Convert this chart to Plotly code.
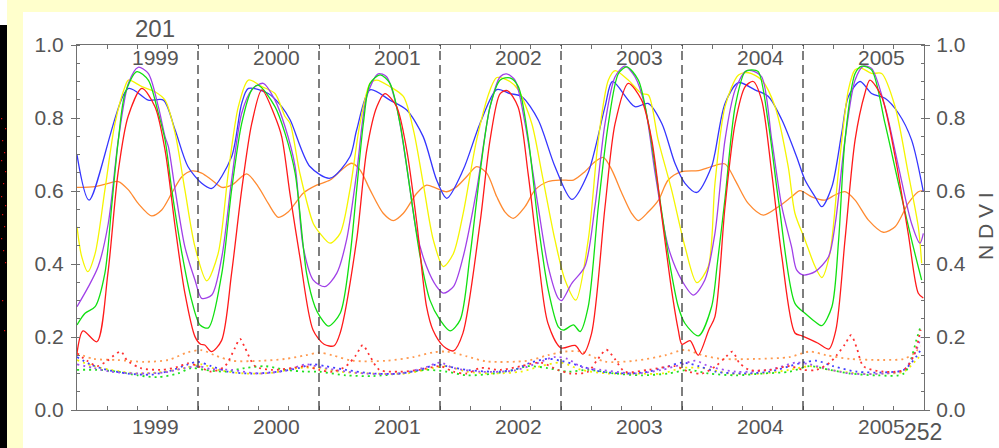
import plotly.graph_objects as go

# ---------------- data (x in dekads, 36 per year, 252 total) ----------------
red_x = [0, 1.8, 5.9, 9.2, 12.2, 15.2, 19.3, 23.2, 26.2, 29.2, 32.1, 35.1, 36.8, 38, 40, 43, 46, 49, 52, 55,
         58.9, 60.9, 63.4, 66.3, 70.2, 73.5, 76.5, 78.3, 83.2, 86.2, 89.2, 91.6, 95.1, 98.1, 101.1, 104, 105.9,
         109, 112, 114.8, 119.9, 122.9, 125.9, 128, 131.2, 134.2, 137.2, 140.1, 144, 148.2, 150.5, 153.1,
         157.1, 160.1, 164, 168, 171, 174, 176.9, 178.9, 180, 182.4, 184.8, 188, 189.8, 192.8, 195.8, 198.8,
         201.2, 203.7, 206.7, 209.7, 213.6, 215.7, 220.5, 223.7, 225.8, 228.5, 231.5, 234.4, 235.9, 239.4,
         243.4, 247.3, 250.3, 251.8]
red_y = [0.156, 0.217, 0.187, 0.375, 0.649, 0.804, 0.881, 0.831, 0.712, 0.502, 0.320, 0.201, 0.18, 0.178, 0.16,
         0.19, 0.375, 0.603, 0.785, 0.877, 0.804, 0.749, 0.59, 0.42, 0.22, 0.18, 0.176, 0.211, 0.466, 0.712,
         0.831, 0.867, 0.831, 0.712, 0.512, 0.283, 0.219, 0.175, 0.162, 0.21, 0.512, 0.740, 0.867, 0.875,
         0.831, 0.649, 0.42, 0.238, 0.17, 0.177, 0.153, 0.21, 0.557, 0.785, 0.895, 0.849, 0.740, 0.530,
         0.329, 0.219, 0.18, 0.19, 0.15, 0.22, 0.256, 0.557, 0.785, 0.886, 0.900, 0.849, 0.649, 0.420,
         0.211, 0.203, 0.183, 0.167, 0.22, 0.466, 0.740, 0.867, 0.904, 0.859, 0.694, 0.484, 0.320, 0.307]

green_x = [0, 2.4, 5.4, 8.3, 10.3, 12.3, 14.3, 17.8, 21.2, 24.2, 26.2, 28.2, 31.2, 34.1, 36.6, 39.1, 43.1, 46,
           49, 52, 53.9, 58.9, 61.9, 64.9, 68.3, 70.8, 72.3, 74.8, 78.3, 81.2, 83.2, 85.2, 87.2, 90.2, 93.1,
           96.1, 99.1, 102.1, 105, 108, 111, 114, 116.9, 119.9, 122.9, 125.9, 128.8, 131.3, 134.3, 137.2,
           140.2, 143.2, 144.7, 147.7, 149.7, 152.1, 155.1, 158.1, 161.1, 163.6, 167, 170, 173, 176, 178.9,
           180.9, 184.9, 188.8, 190.5, 192.8, 195.8, 198.8, 200.7, 202.7, 205.7, 208.7, 213.6, 216.6, 219.6,
           221.6, 224.6, 226.6, 228.5, 231.5, 233.5, 236.4, 240.4, 244.4, 248.3, 251.3]
green_y = [0.233, 0.265, 0.283, 0.375, 0.557, 0.740, 0.867, 0.927, 0.904, 0.813, 0.740, 0.603, 0.430, 0.301,
           0.233, 0.225, 0.375, 0.603, 0.785, 0.877, 0.890, 0.831, 0.758, 0.649, 0.375, 0.283, 0.256, 0.230,
           0.265, 0.420, 0.603, 0.785, 0.895, 0.918, 0.895, 0.785, 0.603, 0.420, 0.301, 0.247, 0.217, 0.247,
           0.420, 0.649, 0.831, 0.904, 0.910, 0.886, 0.740, 0.511, 0.329, 0.228, 0.219, 0.233, 0.215, 0.283,
           0.557, 0.785, 0.922, 0.940, 0.904, 0.785, 0.603, 0.420, 0.283, 0.237, 0.203, 0.283, 0.40, 0.58,
           0.831, 0.927, 0.932, 0.927, 0.785, 0.575, 0.292, 0.265, 0.242, 0.231, 0.283, 0.466, 0.740, 0.922,
           0.942, 0.932, 0.785, 0.621, 0.466, 0.356]

purple_x = [0, 3.4, 6.3, 9.3, 12.3, 15.3, 18.2, 21.2, 24.2, 26.2, 27.2, 29.2, 32.1, 35.1, 37.1, 40.1, 43.1,
            46, 49, 52, 55.4, 58.9, 61.9, 64.9, 67.3, 70.3, 73.8, 77.3, 80.2, 83.2, 86.2, 89.6, 92.1, 95.1,
            98.1, 101.1, 104, 107, 109, 112, 114.9, 118.9, 122.9, 125.9, 127.8, 130.3, 133.3, 137.2, 140.2,
            143.2, 144.2, 147.2, 151.1, 154.1, 157.1, 160.1, 163, 166, 169, 172, 175.9, 179.9, 183.4, 186.8,
            189.8, 192.8, 195.8, 198.8, 200.7, 203.7, 206.7, 209.7, 212.6, 214.1, 216.1, 219.6, 223.6, 225.6,
            228.5, 231.5, 234, 236.4, 240.4, 244.4, 248.3, 250.8, 251.8]
purple_y = [0.283, 0.338, 0.393, 0.511, 0.740, 0.895, 0.939, 0.922, 0.831, 0.749, 0.721, 0.603, 0.447, 0.356,
            0.306, 0.315, 0.420, 0.630, 0.813, 0.877, 0.895, 0.849, 0.776, 0.667, 0.447, 0.356, 0.338, 0.375,
            0.466, 0.649, 0.859, 0.921, 0.913, 0.831, 0.667, 0.484, 0.393, 0.338, 0.320, 0.338, 0.420, 0.603,
            0.831, 0.913, 0.921, 0.904, 0.785, 0.557, 0.393, 0.306, 0.300, 0.347, 0.393, 0.557, 0.785, 0.913,
            0.942, 0.913, 0.831, 0.649, 0.447, 0.356, 0.315, 0.356, 0.484, 0.740, 0.877, 0.927, 0.930, 0.913,
            0.740, 0.557, 0.447, 0.384, 0.370, 0.379, 0.420, 0.511, 0.740, 0.904, 0.942, 0.936, 0.831, 0.667,
            0.511, 0.457, 0.484]

yellow_x = [0, 1.4, 3.2, 5.4, 8.3, 11.3, 14.3, 15.3, 19.3, 23.2, 26.2, 29.2, 32.1, 35.1, 38.6, 42, 45, 48, 51,
            55, 58.9, 61.9, 63.4, 66.3, 70.3, 72.3, 75.3, 78.3, 81.2, 84.2, 87.2, 89.2, 93.1, 97.1, 100.1, 103,
            106, 109, 112, 114.9, 118.9, 122.9, 124.9, 128.8, 131.3, 135.3, 138.3, 142.2, 145.2, 148.4, 152.1,
            155.1, 158.1, 160.1, 164, 168, 170, 172.9, 176.9, 180.9, 184.4, 187.8, 189.8, 192.8, 196.8, 199.8,
            203.7, 207.7, 211.6, 213.6, 216.6, 219.6, 221.6, 224, 226.5, 229.5, 231.5, 233.5, 236.4, 239.4,
            243.4, 247.3, 250.3, 251.3]
yellow_y = [0.502, 0.42, 0.379, 0.429, 0.603, 0.785, 0.886, 0.904, 0.886, 0.872, 0.849, 0.758, 0.603, 0.447,
            0.354, 0.429, 0.649, 0.831, 0.904, 0.886, 0.867, 0.804, 0.785, 0.649, 0.511, 0.484, 0.457, 0.484,
            0.603, 0.785, 0.895, 0.904, 0.886, 0.859, 0.767, 0.621, 0.466, 0.393, 0.429, 0.539, 0.740, 0.877,
            0.911, 0.900, 0.877, 0.785, 0.649, 0.466, 0.356, 0.301, 0.466, 0.740, 0.904, 0.930, 0.904, 0.867,
            0.863, 0.740, 0.603, 0.447, 0.349, 0.393, 0.62, 0.831, 0.918, 0.924, 0.904, 0.831, 0.667, 0.539,
            0.466, 0.393, 0.363, 0.429, 0.649, 0.877, 0.932, 0.936, 0.922, 0.922, 0.831, 0.649, 0.502, 0.402]

blue_x = [0, 3.6, 15.3, 21.2, 25.7, 29.2, 33, 37.1, 40.1, 46, 49, 51, 56.9, 60.9, 63.4, 69.3, 75.3, 81.2, 83.2,
          87.2, 93.1, 98.1, 103, 107, 110, 114.9, 119.9, 124.9, 128.8, 132.3, 137.2, 142.2, 147.2, 152, 157.1,
          159.3, 166, 169.9, 174, 177.9, 180.9, 184.4, 188.8, 189.8, 192.8, 196.8, 201.7, 205.7, 209.7, 214.1,
          216.6, 219.6, 221.6, 224.6, 227.5, 229.5, 233, 236.4, 240.4, 244.4, 248.3, 251.8]
blue_y = [0.699, 0.575, 0.881, 0.849, 0.849, 0.767, 0.667, 0.621, 0.607, 0.694, 0.840, 0.881, 0.867, 0.831,
          0.795, 0.667, 0.635, 0.694, 0.767, 0.877, 0.849, 0.822, 0.749, 0.630, 0.580, 0.658, 0.785, 0.878,
          0.867, 0.859, 0.795, 0.667, 0.577, 0.648, 0.831, 0.900, 0.831, 0.840, 0.785, 0.676, 0.621, 0.596,
          0.667, 0.704, 0.840, 0.897, 0.877, 0.859, 0.795, 0.694, 0.630, 0.584, 0.557, 0.612, 0.758, 0.859,
          0.900, 0.867, 0.854, 0.813, 0.740, 0.598]

orange_x = [0, 5.4, 9.3, 12.3, 15.3, 18.2, 22.2, 25.2, 28.2, 31.2, 34.1, 37.1, 40.1, 43.1, 46, 50.5, 53.9,
            56.9, 59.9, 62.9, 64.9, 67.3, 71.3, 75.3, 79.2, 81.7, 84.2, 87.2, 91.1, 94.1, 97.1, 101.1, 104, 107,
            110, 113, 115.9, 118.9, 121.9, 124.9, 127.3, 129.8, 133.3, 136.3, 140.2, 144.2, 147.7, 151.1, 154.1,
            156.6, 159.1, 162.1, 165, 167, 170, 173, 175.9, 179.9, 184.9, 188.8, 192.8, 195.8, 199.7, 204.2,
            208.7, 212.6, 215.1, 218.6, 222.5, 225.5, 228.5, 231.5, 235.4, 239.9, 243.4, 247.3, 250.3, 251.8]
orange_y = [0.610, 0.612, 0.621, 0.626, 0.603, 0.566, 0.532, 0.548, 0.594, 0.639, 0.655, 0.649, 0.630, 0.610,
            0.616, 0.647, 0.612, 0.566, 0.528, 0.543, 0.566, 0.594, 0.616, 0.630, 0.662, 0.676, 0.658, 0.603,
            0.539, 0.519, 0.539, 0.594, 0.616, 0.607, 0.598, 0.612, 0.639, 0.667, 0.649, 0.584, 0.543, 0.525,
            0.557, 0.603, 0.626, 0.630, 0.630, 0.653, 0.680, 0.692, 0.658, 0.594, 0.539, 0.519, 0.543, 0.575,
            0.630, 0.653, 0.656, 0.667, 0.674, 0.630, 0.566, 0.534, 0.557, 0.584, 0.601, 0.584, 0.575, 0.589,
            0.598, 0.575, 0.521, 0.487, 0.502, 0.566, 0.598, 0.601]

# dotted (standard-deviation-like) series
sd_red_x = [0, 3, 6, 9, 13, 15, 19, 25, 30, 33, 36, 40, 44, 47, 48.5, 50, 53, 58, 64, 68, 72, 76, 80, 83, 85,
            87, 90, 96, 102, 108, 112, 116, 120, 126, 132, 138, 143, 147, 152, 155, 157.5, 160, 163, 170, 178,
            182, 186, 190, 193, 195, 197, 200, 206, 212, 216, 220, 224, 226, 228.5, 230.3, 232, 234, 240, 246,
            249, 251]
sd_red_y = [0.155, 0.135, 0.12, 0.135, 0.16, 0.135, 0.115, 0.11, 0.118, 0.128, 0.12, 0.105, 0.12, 0.17, 0.195,
            0.17, 0.12, 0.11, 0.115, 0.12, 0.11, 0.105, 0.12, 0.15, 0.178, 0.15, 0.11, 0.105, 0.11, 0.12, 0.105,
            0.1, 0.115, 0.11, 0.12, 0.13, 0.11, 0.1, 0.105, 0.14, 0.165, 0.14, 0.105, 0.11, 0.12, 0.105, 0.1,
            0.12, 0.145, 0.16, 0.13, 0.11, 0.11, 0.12, 0.11, 0.11, 0.13, 0.15, 0.18, 0.205, 0.17, 0.12, 0.105,
            0.11, 0.15, 0.22]

sd_orange_x = [0, 5, 12, 20, 27, 33, 37, 41, 46, 55, 62, 68, 72, 76, 82, 92, 100, 106, 110, 116, 122, 134,
               140, 145, 150, 157, 166, 175, 181, 186, 192, 202, 212, 218, 223, 230, 240, 246, 249, 251]
sd_orange_y = [0.155, 0.14, 0.137, 0.132, 0.137, 0.158, 0.164, 0.15, 0.135, 0.135, 0.14, 0.15, 0.157, 0.15,
               0.135, 0.135, 0.145, 0.158, 0.16, 0.147, 0.133, 0.135, 0.15, 0.16, 0.16, 0.133, 0.135, 0.15,
               0.165, 0.15, 0.14, 0.14, 0.145, 0.16, 0.15, 0.14, 0.137, 0.14, 0.155, 0.175]

sd_blue_x = [0, 4, 8, 15, 22, 28, 33, 36, 40, 45, 52, 60, 66, 70, 74, 80, 88, 96, 102, 107, 110, 116, 124,
             130, 135, 140, 144, 150, 156, 164, 170, 176, 180, 185, 190, 198, 206, 212, 216, 220, 225, 232, 240,
             246, 250, 251]
sd_blue_y = [0.145, 0.125, 0.112, 0.1, 0.097, 0.108, 0.125, 0.132, 0.12, 0.105, 0.1, 0.105, 0.115, 0.125,
             0.12, 0.11, 0.1, 0.1, 0.11, 0.125, 0.12, 0.11, 0.105, 0.11, 0.13, 0.14, 0.135, 0.12, 0.105, 0.1,
             0.105, 0.12, 0.13, 0.12, 0.105, 0.1, 0.105, 0.12, 0.13, 0.135, 0.12, 0.105, 0.103, 0.11, 0.15, 0.165]

sd_purple_x = [0, 5, 10, 18, 26, 32, 36, 40, 46, 54, 62, 68, 72, 78, 86, 96, 104, 108, 112, 120, 130, 136,
               142, 146, 150, 156, 166, 174, 180, 184, 188, 196, 206, 214, 218, 222, 230, 240, 246, 250, 251]
sd_purple_y = [0.125, 0.115, 0.105, 0.1, 0.103, 0.115, 0.12, 0.112, 0.11, 0.1, 0.108, 0.125, 0.118, 0.108,
               0.1, 0.1, 0.118, 0.13, 0.115, 0.105, 0.108, 0.125, 0.145, 0.14, 0.118, 0.11, 0.1, 0.11, 0.125,
               0.135, 0.12, 0.105, 0.11, 0.13, 0.125, 0.115, 0.1, 0.1, 0.11, 0.17, 0.2]

sd_green_x = [0, 6, 12, 18, 24, 30, 34, 38, 44, 50, 56, 62, 68, 72, 80, 88, 96, 104, 110, 116, 124, 130, 134,
              140, 146, 152, 160, 168, 176, 182, 188, 196, 204, 212, 218, 224, 230, 238, 246, 250, 251]
sd_green_y = [0.11, 0.11, 0.105, 0.095, 0.09, 0.1, 0.115, 0.11, 0.105, 0.115, 0.12, 0.11, 0.105, 0.105, 0.095,
              0.093, 0.1, 0.11, 0.105, 0.095, 0.1, 0.11, 0.12, 0.115, 0.105, 0.11, 0.1, 0.095, 0.1, 0.11, 0.1,
              0.095, 0.1, 0.105, 0.12, 0.11, 0.1, 0.095, 0.1, 0.2, 0.23]

sd_yellow_x = [0, 5, 10, 18, 26, 32, 37, 42, 50, 58, 66, 72, 78, 88, 98, 106, 110, 116, 124, 132, 138, 144,
               150, 158, 166, 174, 180, 186, 194, 204, 212, 218, 224, 232, 240, 246, 250, 251]
sd_yellow_y = [0.137, 0.12, 0.11, 0.1, 0.105, 0.115, 0.125, 0.11, 0.1, 0.102, 0.115, 0.115, 0.105, 0.1, 0.1,
               0.115, 0.12, 0.105, 0.1, 0.105, 0.12, 0.13, 0.11, 0.1, 0.1, 0.1, 0.115, 0.115, 0.1, 0.1, 0.11,
               0.12, 0.11, 0.1, 0.1, 0.105, 0.14, 0.15]

year_labels = ["1999", "2000", "2001", "2002", "2003", "2004", "2005"]
year_label_pos = [23.5, 59.5, 95.5, 131.5, 167.5, 203.5, 239.5]
year_bounds = [36, 72, 108, 144, 180, 216]
x_ticks = list(range(0, 253, 9))
y_ticks = [0.0, 0.2, 0.4, 0.6, 0.8, 1.0]
y_tick_text = ["0.0", "0.2", "0.4", "0.6", "0.8", "1.0"]

# ---------------- figure ----------------
W, H = 999, 448
L, R, T, B = 77, 75, 45, 38
PW, PH = W - L - R, H - T - B


def px2paper_x(px):
    return (px - L) / PW


def py2paper_y(py):
    return (H - B - py) / PH


FONT = "Liberation Sans, Arial, sans-serif"
TXT = "#555555"
AX = "#707070"

fig = go.Figure()

solid = [
    (orange_x, orange_y, "#FF8A30"),
    (blue_x, blue_y, "#3535FF"),
    (yellow_x, yellow_y, "#F5F500"),
    (purple_x, purple_y, "#A040E8"),
    (green_x, green_y, "#10E010"),
    (red_x, red_y, "#FF1A1A"),
]
dotted = [
    (sd_orange_x, sd_orange_y, "#FF9A50"),
    (sd_yellow_x, sd_yellow_y, "#F0F000"),
    (sd_green_x, sd_green_y, "#20E020"),
    (sd_blue_x, sd_blue_y, "#4040FF"),
    (sd_purple_x, sd_purple_y, "#A050F0"),
    (sd_red_x, sd_red_y, "#FF3030"),
]

for xs, ys, c in dotted:
    fig.add_trace(go.Scatter(x=xs, y=ys, mode="lines",
                             line=dict(color=c, width=1.8, dash="2px,4px", shape="spline", smoothing=0.8),
                             hoverinfo="skip", showlegend=False))
for xs, ys, c in solid:
    fig.add_trace(go.Scatter(x=xs, y=ys, mode="lines",
                             line=dict(color=c, width=1.3, shape="spline", smoothing=0.8),
                             hoverinfo="skip", showlegend=False))

# invisible trace to activate right axis
fig.add_trace(go.Scatter(x=[0], y=[0], yaxis="y2", mode="markers", marker=dict(opacity=0),
                         hoverinfo="skip", showlegend=False))

shapes = []
# dashed year boundaries
for xb in year_bounds:
    shapes.append(dict(type="line", xref="x", yref="paper", x0=xb, x1=xb, y0=0, y1=1,
                       line=dict(color="#3a3a3a", width=1.3, dash="9px,5px"), layer="above"))
# background decoration: yellow frame and black strip
shapes.append(dict(type="rect", xref="paper", yref="paper", layer="below",
                   x0=px2paper_x(7), x1=px2paper_x(999), y0=py2paper_y(12), y1=py2paper_y(0),
                   fillcolor="#FFFFCC", line=dict(width=0)))
shapes.append(dict(type="rect", xref="paper", yref="paper", layer="below",
                   x0=px2paper_x(7), x1=px2paper_x(23), y0=py2paper_y(448), y1=py2paper_y(0),
                   fillcolor="#FFFFCC", line=dict(width=0)))
shapes.append(dict(type="rect", xref="paper", yref="paper", layer="below",
                   x0=px2paper_x(0), x1=px2paper_x(7), y0=py2paper_y(448), y1=py2paper_y(25),
                   fillcolor="#000000", line=dict(width=0)))
speck_px = [(2, 140), (4, 152), (1, 160), (5, 171), (3, 183), (1, 196), (5, 205), (2, 214), (4, 226),
            (1, 238), (3, 250), (5, 262), (2, 300), (4, 330), (1, 118), (5, 128)]
for sx, sy in speck_px:
    shapes.append(dict(type="rect", xref="paper", yref="paper", layer="below",
                       x0=px2paper_x(sx), x1=px2paper_x(sx + 1.2), y0=py2paper_y(sy + 1.2), y1=py2paper_y(sy),
                       fillcolor="#E01010", line=dict(width=0)))

annotations = []
for lab, xp in zip(year_labels, year_label_pos):
    annotations.append(dict(x=xp, xref="x", y=py2paper_y(426), yref="paper", text=lab, showarrow=False,
                            font=dict(family=FONT, size=21, color=TXT), xanchor="center", yanchor="middle"))
    annotations.append(dict(x=xp, xref="x", y=py2paper_y(58), yref="paper", text=lab, showarrow=False,
                            font=dict(family=FONT, size=21, color=TXT), xanchor="center", yanchor="middle"))
annotations.append(dict(x=px2paper_x(155), y=py2paper_y(28), xref="paper", yref="paper", text="201",
                        showarrow=False, font=dict(family=FONT, size=24, color=TXT),
                        xanchor="center", yanchor="middle"))
annotations.append(dict(x=px2paper_x(923), y=py2paper_y(432), xref="paper", yref="paper", text="252",
                        showarrow=False, font=dict(family=FONT, size=23, color=TXT),
                        xanchor="center", yanchor="middle"))
annotations.append(dict(x=px2paper_x(985), y=py2paper_y(226), xref="paper", yref="paper", text="N D V I",
                        showarrow=False, textangle=-90, font=dict(family=FONT, size=21, color=TXT),
                        xanchor="center", yanchor="middle"))

yax_common = dict(range=[0, 1], tickvals=y_ticks, ticktext=y_tick_text, showgrid=False, zeroline=False,
                  showline=True, linecolor=AX, linewidth=1.2, ticks="outside", ticklen=5, tickcolor=AX,
                  tickfont=dict(family=FONT, size=21, color=TXT),
                  minor=dict(dtick=0.05, ticks="inside", ticklen=3, tickcolor=AX, showgrid=False))

fig.update_layout(
    width=W, height=H,
    margin=dict(l=L, r=R, t=T, b=B, pad=0),
    paper_bgcolor="#FFFFFF", plot_bgcolor="#FFFFFF",
    showlegend=False,
    xaxis=dict(range=[0, 252], tickvals=x_ticks, showticklabels=False, ticks="inside", ticklen=4,
               tickcolor=AX, showline=True, linecolor=AX, linewidth=1.2, mirror="ticks",
               showgrid=False, zeroline=False),
    yaxis=dict(side="left", ticklabelstandoff=3, **yax_common),
    yaxis2=dict(side="right", overlaying="y", anchor="x", ticklabelstandoff=2, **yax_common),
    shapes=shapes,
    annotations=annotations,
)

fig.write_html("out.html")
